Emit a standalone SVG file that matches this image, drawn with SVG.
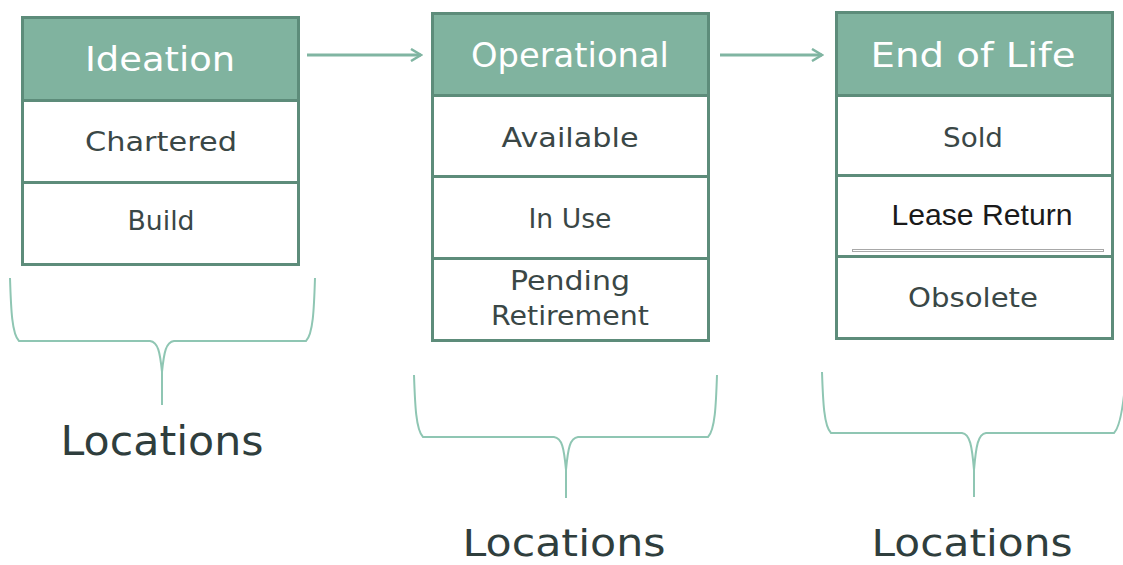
<svg xmlns="http://www.w3.org/2000/svg" width="1123" height="565" viewBox="0 0 1123 565">
<defs>
<style>
.box{fill:#ffffff;stroke:#5d8c7a;stroke-width:3}
.head{fill:#80b39f;stroke:#5d8c7a;stroke-width:3}
.ht{font-family:"DejaVu Sans",sans-serif;font-size:33px;fill:#ffffff;text-anchor:middle}
.rt{font-family:"DejaVu Sans",sans-serif;font-size:26px;fill:#3a4746;text-anchor:middle}
.lt{font-family:"DejaVu Sans",sans-serif;font-size:41px;fill:#2f3e3d;text-anchor:middle}
.lb{font-family:"DejaVu Sans",sans-serif;font-size:38px;fill:#2f3e3d;text-anchor:middle}
.conn{fill:none;stroke:#80b5a2;stroke-width:3}
.brace{fill:none;stroke:#8fc6b3;stroke-width:2}
</style>
<marker id="arr" viewBox="0 0 14 14" refX="12" refY="7" markerWidth="14" markerHeight="14" markerUnits="userSpaceOnUse" orient="auto">
<path d="M2,1 L12,7 L2,13" fill="none" stroke="#80b5a2" stroke-width="2.5"/>
</marker>
</defs>
<rect width="1123" height="565" fill="#ffffff"/>

<g id="ideation">
<rect class="head" x="22.5" y="17.5" width="276" height="83"/>
<rect class="box" x="22.5" y="100.5" width="276" height="82"/>
<rect class="box" x="22.5" y="182.5" width="276" height="82"/>
<text class="ht" x="160" y="71" textLength="150" lengthAdjust="spacingAndGlyphs">Ideation</text>
<text class="rt" x="161" y="151" textLength="152" lengthAdjust="spacingAndGlyphs">Chartered</text>
<text class="rt" x="161" y="230" textLength="67" lengthAdjust="spacingAndGlyphs">Build</text>
</g>

<g id="operational">
<rect class="head" x="432.5" y="13.5" width="276" height="82"/>
<rect class="box" x="432.5" y="95.5" width="276" height="81"/>
<rect class="box" x="432.5" y="176.5" width="276" height="82"/>
<rect class="box" x="432.5" y="258.5" width="276" height="82"/>
<text class="ht" x="570" y="67" textLength="198" lengthAdjust="spacingAndGlyphs">Operational</text>
<text class="rt" x="570" y="147" textLength="137" lengthAdjust="spacingAndGlyphs">Available</text>
<text class="rt" x="570" y="228" textLength="83" lengthAdjust="spacingAndGlyphs">In Use</text>
<text class="rt" x="570" y="290" textLength="120" lengthAdjust="spacingAndGlyphs">Pending</text>
<text class="rt" x="570" y="325" textLength="158" lengthAdjust="spacingAndGlyphs">Retirement</text>
</g>

<g id="end-of-life">
<rect class="head" x="836.5" y="12.5" width="276" height="83"/>
<rect class="box" x="836.5" y="95.5" width="276" height="80"/>
<rect class="box" x="836.5" y="175.5" width="276" height="81"/>
<rect class="box" x="836.5" y="256.5" width="276" height="82"/>
<rect x="852.5" y="249.5" width="251" height="2" fill="#ffffff" stroke="#a8a8a8" stroke-width="1"/>
<text class="ht" x="973" y="67" textLength="205" lengthAdjust="spacingAndGlyphs">End of Life</text>
<text class="rt" x="973" y="147" textLength="60" lengthAdjust="spacingAndGlyphs">Sold</text>
<text x="982" y="225" font-family="Liberation Sans, Arial, sans-serif" font-size="29" fill="#1a1a1a" text-anchor="middle" textLength="181" lengthAdjust="spacingAndGlyphs">Lease Return</text>
<text class="rt" x="973" y="307" textLength="130" lengthAdjust="spacingAndGlyphs">Obsolete</text>
</g>

<g id="locations-1">
<path class="brace" d="M10,278 C11,310 12,334 19,341 L150,341 C158,342 160,352 162,372 C164,352 166,342 174,341 L306,341 C313,334 314,310 315,278"/>
<path class="brace" d="M162,370 L162,405"/>
<text class="lt" x="162" y="455" textLength="203" lengthAdjust="spacingAndGlyphs">Locations</text>
</g>

<g id="locations-2">
<path class="brace" d="M414,375 C415,405 416,430 423,437 L554,437 C562,438 564,448 566,470 C568,448 570,438 578,437 L708,437 C715,430 716,405 717,375"/>
<path class="brace" d="M566,468 L566,498"/>
<text class="lb" x="564" y="556" textLength="203" lengthAdjust="spacingAndGlyphs">Locations</text>
</g>

<g id="locations-3">
<path class="brace" d="M822,372 C823,402 824,426 831,433 L962,433 C970,434 972,446 974,470 C976,446 978,434 986,433 L1114,433 C1121,426 1124,402 1126,372"/>
<path class="brace" d="M974,468 L974,497"/>
<text class="lb" x="972" y="556" textLength="201" lengthAdjust="spacingAndGlyphs">Locations</text>
</g>

<g id="connectors">
<path class="conn" d="M307,55 L421,55" marker-end="url(#arr)"/>
<path class="conn" d="M720,55 L822,55" marker-end="url(#arr)"/>
</g>
</svg>
